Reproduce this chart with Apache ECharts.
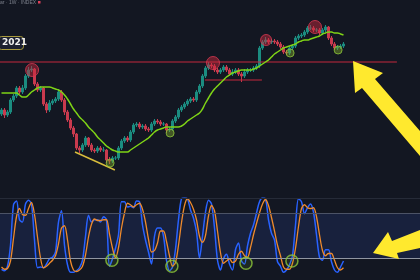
<!DOCTYPE html>
<html><head><meta charset="utf-8">
<script src="https://cdn.jsdelivr.net/npm/echarts@6/dist/echarts.min.js"></script>
<style>html,body{margin:0;padding:0;background:#131722;overflow:hidden}#c{width:420px;height:280px}</style>
</head><body><div id="c"></div>
<script>
// ---- data (price in arbitrary chart units, stochastic 0-100) ----
const opens = [86,90,85,88,100,104,112,108,112,124,
130,131,116,110,112,96,90,97,99,101,
108,100,88,80,72,66,52,50,55,62,
55,50,49,52,50,50,40,39,42,42,
52,59,62,60,68,75,76,73,74,71,
70,76,79,78,76,76,70,71,79,83,
90,93,96,99,101,100,108,114,124,132,
135,134,130,128,130,133,130,126,128,130,
126,124,128,130,130,132,134,152,158,160,
158,159,158,156,153,148,147,152,154,162,
164,165,168,172,172,170,170,167,170,173,
162,156,152,153,154];
const closes = [90,85,88,100,104,112,108,112,124,130,
131,116,110,112,96,90,97,99,101,108,
100,88,80,72,66,52,50,55,62,55,
50,49,52,50,50,40,39,42,42,52,
59,62,60,68,75,76,73,74,71,70,
76,79,78,76,76,70,71,79,83,90,
93,96,99,101,100,108,114,124,132,135,
134,130,128,130,133,130,126,128,130,126,
124,128,130,130,132,134,152,158,160,158,
159,158,156,153,148,147,152,154,162,164,
165,168,172,172,170,170,167,170,173,162,
156,152,153,154,156];
const highs = [92,92,90,102,106,114,114,115,126,133,
134,132,118,114,113,98,100,101,103,111,
110,102,90,82,74,67,54,57,64,63,
57,52,54,54,53,51,43,44,44,54,
61,64,64,70,77,78,78,76,76,73,
78,81,81,80,78,77,73,81,85,92,
95,98,101,103,103,110,116,126,134,138,
137,136,132,132,135,135,132,131,132,132,
128,131,132,132,134,136,154,160,163,162,
161,161,160,158,155,150,154,156,164,166,
167,170,174,175,174,172,172,172,175,174,
164,158,155,156,158];
const lows = [84,82,83,86,98,102,106,106,110,122,
128,114,108,108,94,87,88,95,97,99,
98,85,78,70,63,50,47,48,53,53,
48,47,47,48,48,37,36,37,40,40,
50,57,58,58,66,73,71,71,69,68,
68,74,76,74,74,67,68,69,77,81,
88,91,94,97,98,98,106,112,122,130,
132,128,126,126,128,128,124,124,126,124,
118,122,126,128,128,130,132,150,156,156,
156,156,154,151,146,145,145,150,152,160,
162,163,166,170,168,168,165,165,168,160,
154,150,150,151,152];
const maLine = [107,107,107,107,107,107,105,103,103,105,
108,110,112,113,113,113,113,112,111,110,
108,105,101,96,91,87,83,80,77,73,
70,67,63,60,57,54,52,50,49,48,
48,48,48,50,52,54,56,58,60,62,
65,68,70,71,72,73,73,73,73,73,
74,76,79,81,83,85,87,91,97,102,
107,111,114,117,120,123,125,127,128,129,
130,130,130,130,131,132,134,136,138,140,
143,146,148,150,152,153,154,155,156,158,
159,160,160,161,162,163,164,166,167,168,
168,167,167,166,165];
const stochK = [5,3,9,37,91,96,71,68,92,97,
92,44,7,8,7,12,19,21,28,68,
83,37,11,1,1,3,7,17,49,77,
68,71,71,68,75,71,9,19,33,51,
95,95,88,89,87,96,95,64,44,28,
12,49,60,60,49,17,3,8,32,71,
99,100,99,84,73,55,20,49,81,97,
92,60,17,4,19,25,12,4,31,40,
16,12,36,53,64,80,95,100,99,71,
53,44,15,9,1,4,11,23,64,99,
95,79,87,92,81,51,21,17,31,31,
15,4,1,8,16];
const stochD = [8,5,6,16,46,75,86,78,77,86,
94,78,48,20,7,9,13,17,23,39,
60,63,44,16,4,2,4,9,24,48,
65,72,70,70,71,71,52,33,20,34,
60,80,93,91,88,91,93,85,68,45,
28,30,40,56,56,42,23,9,14,37,
67,90,99,94,85,71,49,41,50,76,
90,83,56,27,13,16,19,14,16,25,
29,23,21,34,51,66,80,92,98,90,
74,56,37,23,8,5,5,13,33,62,
86,91,87,86,87,75,51,30,23,26,
26,17,7,4,7];
const resistanceLevel = 138;
const rangeLevel = 120;
const trendLine = [[24.5,48],[37.8,30]];
const redCircles = [[10.2,130,13],[70.5,137,13],[88.2,160,11],[104.5,173,13]];
const greenCircles = [[36.2,37,8],[56.2,67,8],[96.2,147,8],[112.2,150,8]];
const stochCircles = [[36.8,17],[56.8,9],[81.5,13],[96.8,16]];
const bandLevels = [20, 80, 100];
const titleText = 'ar · 1W · INDEX';
const yearLabel = '2021';
const TOTAL = 140;
const weeks = [];
for (let i = 0; i < TOTAL; i++) weeks.push('W' + (i + 1));

const candleData = opens.map((o, i) => [o, closes[i], lows[i], highs[i]]);

const chart = echarts.init(document.getElementById('c'), null, {renderer: 'canvas'});
chart.setOption({
  backgroundColor: '#131722',
  animation: false,
  grid: [
    {left: 0, right: 0, top: 0, height: 200},
    {left: 0, right: 0, top: 198, height: 75}
  ],
  xAxis: [
    {type: 'category', data: weeks, gridIndex: 0, show: false, boundaryGap: true},
    {type: 'value', gridIndex: 0, min: -0.5, max: TOTAL - 0.5, show: false},
    {type: 'category', data: weeks, gridIndex: 1, show: false, boundaryGap: true},
    {type: 'value', gridIndex: 1, min: -0.5, max: TOTAL - 0.5, show: false}
  ],
  yAxis: [
    {type: 'value', gridIndex: 0, min: 0, max: 200, show: false},
    {type: 'value', gridIndex: 1, min: 0, max: 100, show: false}
  ],
  series: [
    {type: 'candlestick', xAxisIndex: 0, yAxisIndex: 0, data: candleData, barWidth: 1.6,
     itemStyle: {color: '#1b8c80', color0: '#c93a4e', borderColor: '#1b8c80', borderColor0: '#c93a4e', borderWidth: 1}},
    {type: 'line', xAxisIndex: 1, yAxisIndex: 0, data: [[-0.5, resistanceLevel], [131.8, resistanceLevel]],
     symbol: 'none', lineStyle: {color: '#c4283c', width: 1.2}, z: 3},
    {type: 'line', xAxisIndex: 1, yAxisIndex: 0, data: [[67.8, rangeLevel], [86.8, rangeLevel]],
     symbol: 'none', lineStyle: {color: '#c4283c', width: 1.2}, z: 3},
    {type: 'line', xAxisIndex: 0, yAxisIndex: 0, data: maLine, smooth: true, symbol: 'none',
     lineStyle: {color: '#7fd416', width: 1.5}, z: 4},
    {type: 'line', xAxisIndex: 1, yAxisIndex: 0, data: trendLine, symbol: 'none',
     lineStyle: {color: '#d8bd3c', width: 1.5}, z: 4},
    {type: 'scatter', xAxisIndex: 1, yAxisIndex: 0, data: redCircles,
     symbolSize: d => d[2],
     itemStyle: {color: 'rgba(200,40,60,0.6)', borderColor: '#d93a52', borderWidth: 1}, z: 5},
    {type: 'scatter', xAxisIndex: 1, yAxisIndex: 0, data: greenCircles,
     symbolSize: d => d[2],
     itemStyle: {color: 'rgba(130,170,40,0.55)', borderColor: '#8cc63a', borderWidth: 1}, z: 5},
    {type: 'line', xAxisIndex: 2, yAxisIndex: 1, data: stochK, symbol: 'none', smooth: 0.3,
     lineStyle: {color: '#2962ff', width: 1.5}, z: 3,
     markArea: {silent: true, itemStyle: {color: '#18213d'}, data: [[{yAxis: bandLevels[0]}, {yAxis: bandLevels[1]}]]},
     markLine: {silent: true, symbol: 'none', label: {show: false},
       data: [
         {yAxis: bandLevels[0], lineStyle: {color: '#9096a2', width: 1, type: 'solid'}},
         {yAxis: bandLevels[1], lineStyle: {color: '#4c5366', width: 1, type: 'solid'}},
         {yAxis: bandLevels[2], lineStyle: {color: '#262b38', width: 1, type: 'solid'}}
       ]}},
    {type: 'line', xAxisIndex: 2, yAxisIndex: 1, data: stochD, symbol: 'none', smooth: 0.3,
     lineStyle: {color: '#ef8a2c', width: 1.3}, z: 4},
    {type: 'scatter', xAxisIndex: 3, yAxisIndex: 1, data: stochCircles, symbolSize: 12,
     itemStyle: {color: 'rgba(120,180,40,0.15)', borderColor: '#8cc63a', borderWidth: 1.5}, z: 5}
  ],
  graphic: [
    {type: 'text', left: 0, top: 0, z: 50,
     style: {text: titleText, fill: '#7c808c', font: '5px "Liberation Sans", sans-serif'}},
    {type: 'rect', left: 38, top: 1, z: 50, shape: {width: 2.5, height: 2.5}, style: {fill: '#e0405a'}},
    {type: 'rect', left: -2, top: 36, z: 50, shape: {width: 25, height: 13, r: 3},
     style: {fill: '#1c2030', stroke: '#a89a3c', lineWidth: 1}},
    {type: 'text', left: 2, top: 38, z: 51,
     style: {text: yearLabel, fill: '#f0f0f0', font: 'bold 9px "DejaVu Sans", sans-serif'}},
    {type: 'polygon', z: 100,
     shape: {points: [[353,61],[383,73],[375,79],[420,131],[420,156],[362,88],[355,93]]},
     style: {fill: '#ffe92e'}},
    {type: 'polygon', z: 100,
     shape: {points: [[373,253],[388,232],[392,241],[420,230],[420,248],[397,253],[399,259]]},
     style: {fill: '#ffe92e'}}
  ]
});
</script>
</body></html>
